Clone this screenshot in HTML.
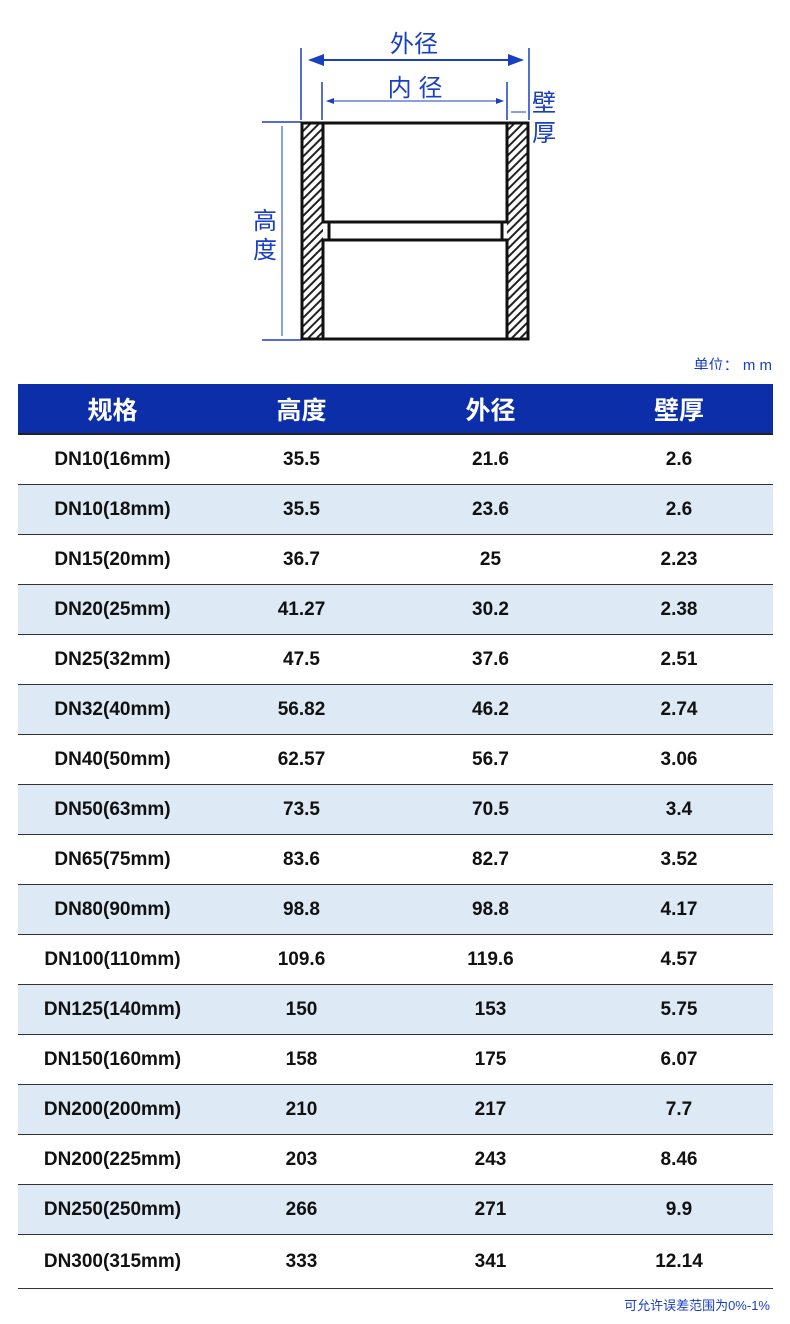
<!DOCTYPE html>
<html><head><meta charset="utf-8"><style>
body{margin:0;width:790px;height:1324px;background:#fff;font-family:"Liberation Sans","Noto Sans CJK SC",sans-serif;position:relative;overflow:hidden}
table{position:absolute;left:18px;top:384px;width:755px;border-collapse:collapse}
th{background:#0c2ea8;color:#fff;height:49px;font-size:25px;font-weight:bold;border-bottom:2px solid #222;padding:0}
td{height:49px;border-bottom:1px solid #333;text-align:center;font-size:19px;font-weight:bold;color:#111;padding:0}
tr:nth-child(odd) td{background:#dde9f4}
tr.last td{height:53px}
.c1{width:189px}.c2{width:189px}.c3{width:189px}
</style></head><body>
<svg width="790" height="370" style="position:absolute;left:0;top:0">
<defs><pattern id="h" width="6" height="6" patternUnits="userSpaceOnUse" patternTransform="rotate(45)"><rect width="6" height="6" fill="#fff"/><rect width="2" height="6" fill="#222"/></pattern>
<marker id="a" markerWidth="8" markerHeight="6" refX="7" refY="3" orient="auto"><path d="M0,0L8,3L0,6z" fill="#1a3fc0"/></marker>
<marker id="b" markerWidth="8" markerHeight="6" refX="1" refY="3" orient="auto"><path d="M8,0L0,3L8,6z" fill="#1a3fc0"/></marker></defs>
<g stroke="#1a3fc0" stroke-width="1.5">
<line x1="301" y1="48" x2="301" y2="120"/><line x1="529" y1="48" x2="529" y2="120"/>
<line x1="322" y1="82" x2="322" y2="120"/><line x1="507" y1="82" x2="507" y2="120"/>
<line x1="310" y1="60" x2="522" y2="60" marker-start="url(#b)" marker-end="url(#a)" stroke-width="2"/>
<line x1="327" y1="101" x2="503" y2="101" marker-start="url(#b)" marker-end="url(#a)" stroke-width="1"/>
<line x1="511" y1="112" x2="526" y2="112" stroke-width="1"/>
<line x1="262" y1="122" x2="301" y2="122"/><line x1="262" y1="340" x2="301" y2="340"/>
<line x1="282" y1="126" x2="282" y2="336" stroke-width="1"/>
</g>
<rect x="302" y="123" width="21" height="216" fill="url(#h)"/>
<rect x="507" y="123" width="21" height="216" fill="url(#h)"/>
<rect x="302" y="123" width="226" height="216" fill="none" stroke="#111" stroke-width="3"/>
<rect x="323" y="123" width="184" height="99" fill="#fff" stroke="#111" stroke-width="3"/>
<rect x="329" y="222" width="173" height="18" fill="#fff" stroke="#111" stroke-width="3"/>
<rect x="323" y="240" width="184" height="99" fill="#fff" stroke="#111" stroke-width="3"/>
<g fill="#1a3fc0" font-size="24" font-family="Liberation Sans,Noto Sans CJK SC,sans-serif">
<text x="414" y="52" text-anchor="middle">外径</text>
<text x="415" y="96" text-anchor="middle">内 径</text>
<text x="532" y="111">壁</text><text x="532" y="141">厚</text>
<text x="253" y="229">高</text><text x="253" y="258">度</text>
<text x="772" y="370" text-anchor="end" font-size="15">单位： m m</text>
</g></svg>
<table>
<tr><th class="c1">规格</th><th class="c2">高度</th><th class="c3">外径</th><th>壁厚</th></tr>
<tr><td>DN10(16mm)</td><td>35.5</td><td>21.6</td><td>2.6</td></tr>
<tr><td>DN10(18mm)</td><td>35.5</td><td>23.6</td><td>2.6</td></tr>
<tr><td>DN15(20mm)</td><td>36.7</td><td>25</td><td>2.23</td></tr>
<tr><td>DN20(25mm)</td><td>41.27</td><td>30.2</td><td>2.38</td></tr>
<tr><td>DN25(32mm)</td><td>47.5</td><td>37.6</td><td>2.51</td></tr>
<tr><td>DN32(40mm)</td><td>56.82</td><td>46.2</td><td>2.74</td></tr>
<tr><td>DN40(50mm)</td><td>62.57</td><td>56.7</td><td>3.06</td></tr>
<tr><td>DN50(63mm)</td><td>73.5</td><td>70.5</td><td>3.4</td></tr>
<tr><td>DN65(75mm)</td><td>83.6</td><td>82.7</td><td>3.52</td></tr>
<tr><td>DN80(90mm)</td><td>98.8</td><td>98.8</td><td>4.17</td></tr>
<tr><td>DN100(110mm)</td><td>109.6</td><td>119.6</td><td>4.57</td></tr>
<tr><td>DN125(140mm)</td><td>150</td><td>153</td><td>5.75</td></tr>
<tr><td>DN150(160mm)</td><td>158</td><td>175</td><td>6.07</td></tr>
<tr><td>DN200(200mm)</td><td>210</td><td>217</td><td>7.7</td></tr>
<tr><td>DN200(225mm)</td><td>203</td><td>243</td><td>8.46</td></tr>
<tr><td>DN250(250mm)</td><td>266</td><td>271</td><td>9.9</td></tr>
<tr class="last"><td>DN300(315mm)</td><td>333</td><td>341</td><td>12.14</td></tr>
</table>
<div style="position:absolute;right:20px;top:1295px;font-size:13px;color:#1a3fc0">可允许误差范围为0%-1%</div>
</body></html>
